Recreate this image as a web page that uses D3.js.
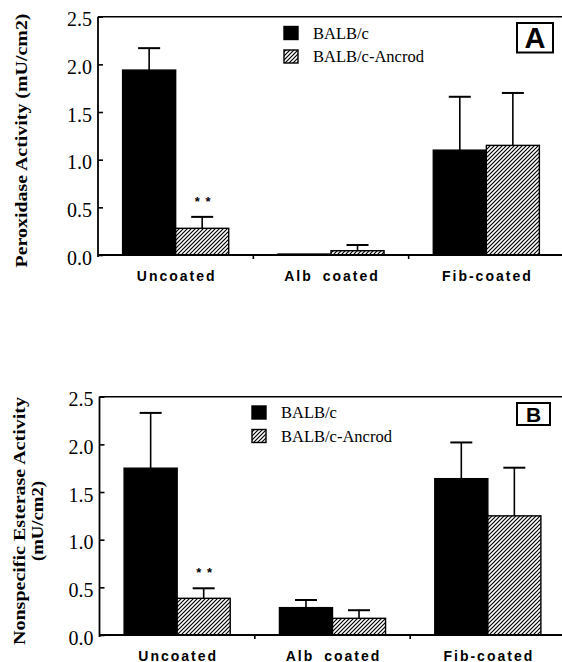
<!DOCTYPE html>
<html>
<head>
<meta charset="utf-8">
<script src="https://cdn.jsdelivr.net/npm/d3@7"></script>
<style>
  html, body { margin: 0; padding: 0; background: #fff; }
  svg { display: block; }
</style>
</head>
<body>
<svg id="chart" width="562" height="662"></svg>
<script>
// ---------- data ----------
const categories = ["Uncoated", "Alb coated", "Fib-coated"];
const seriesNames = ["BALB/c", "BALB/c-Ancrod"];
const yTicks = [0, 0.5, 1.0, 1.5, 2.0, 2.5];

const peroxBalb      = [1.94, 0.01, 1.10];
const peroxBalbErr   = [0.23, 0, 0.56];
const peroxAncrod    = [0.28, 0.045, 1.15];
const peroxAncrodErr = [0.12, 0.06, 0.55];

const esterBalb      = [1.75, 0.287, 1.64];
const esterBalbErr   = [0.58, 0.08, 0.38];
const esterAncrod    = [0.385, 0.175, 1.25];
const esterAncrodErr = [0.105, 0.085, 0.505];

const ancrodSignif = ["* *", "", ""];

const panelLetters = ["A", "B"];
const yTitlesA = ["Peroxidase Activity (mU/cm2)"];
const yTitlesB = ["Nonspecific Esterase Activity", "(mU/cm2)"];

// ---------- drawing ----------
const svg = d3.select("#chart");
const defs = svg.append("defs");
const pat = defs.append("pattern")
  .attr("id", "hatch").attr("patternUnits", "userSpaceOnUse")
  .attr("width", 4).attr("height", 4);
pat.append("rect").attr("width", 4).attr("height", 4).attr("fill", "#fff");
pat.append("path").attr("d", "M0,4 L4,0 M-1,1 L1,-1 M3,5 L5,3")
  .attr("stroke", "#000").attr("stroke-width", 1.2);

const serif = "'Liberation Serif', 'DejaVu Serif', serif";
const sans = "'Liberation Sans', Arial, sans-serif";

function drawPanel(cfg) {
  const g = svg.append("g");
  const y = d3.scaleLinear().domain([0, 2.5]).range([cfg.bottom, cfg.top]);
  const x0 = d3.scaleBand().domain(categories).range([cfg.left, cfg.right])
    .paddingInner(0.317).paddingOuter(0.1585);
  const x1 = d3.scaleBand().domain(seriesNames).range([0, x0.bandwidth()]);

  const rows = [];
  categories.forEach((c, i) => {
    rows.push({cat: c, s: seriesNames[0], v: cfg.balb[i], e: cfg.balbErr[i], fill: "#000", sig: ""});
    rows.push({cat: c, s: seriesNames[1], v: cfg.ancrod[i], e: cfg.ancrodErr[i], fill: "url(#hatch)", sig: ancrodSignif[i]});
  });

  // error bars (upper only)
  const eb = g.append("g");
  rows.filter(d => d.e > 0).forEach(d => {
    const cx = x0(d.cat) + x1(d.s) + x1.bandwidth() / 2;
    eb.append("line").attr("x1", cx).attr("x2", cx)
      .attr("y1", y(d.v)).attr("y2", y(d.v + d.e))
      .attr("stroke", "#000").attr("stroke-width", 1.6);
    eb.append("line").attr("x1", cx - 11).attr("x2", cx + 11)
      .attr("y1", y(d.v + d.e)).attr("y2", y(d.v + d.e))
      .attr("stroke", "#000").attr("stroke-width", 2);
  });

  // bars
  g.append("g").selectAll("rect").data(rows).join("rect")
    .attr("x", d => x0(d.cat) + x1(d.s))
    .attr("y", d => y(d.v))
    .attr("width", x1.bandwidth())
    .attr("height", d => y(0) - y(d.v))
    .attr("fill", d => d.fill)
    .attr("stroke", "#000").attr("stroke-width", 1.4);

  // significance marks
  g.append("g").selectAll("text").data(rows.filter(d => d.sig)).join("text")
    .attr("x", d => x0(d.cat) + x1(d.s) + x1.bandwidth() / 2 + 1)
    .attr("y", d => y(d.v + d.e) - 11)
    .attr("text-anchor", "middle")
    .attr("font-family", sans).attr("font-size", 13).attr("font-weight", "bold")
    .attr("letter-spacing", "1px")
    .attr("xml:space", "preserve")
    .text(d => d.sig);

  // top frame line
  g.append("line").attr("x1", cfg.left).attr("x2", 562)
    .attr("y1", cfg.top).attr("y2", cfg.top)
    .attr("stroke", "#000").attr("stroke-width", 1.6);
  // bottom axis line
  g.append("line").attr("x1", cfg.left).attr("x2", 562)
    .attr("y1", cfg.bottom).attr("y2", cfg.bottom)
    .attr("stroke", "#000").attr("stroke-width", 1.8);

  // x ticks at group boundaries
  const step = x0.step();
  categories.slice(0, -1).forEach(c => {
    const bx = x0(c) + x0.bandwidth() + (step - x0.bandwidth()) / 2;
    g.append("line").attr("x1", bx).attr("x2", bx)
      .attr("y1", cfg.bottom).attr("y2", cfg.bottom + 4)
      .attr("stroke", "#000").attr("stroke-width", 1.6);
  });

  // x labels
  const xAxis = d3.axisBottom(x0).tickSize(0).tickPadding(0);
  const xg = g.append("g").attr("transform", `translate(0,${cfg.bottom})`).call(xAxis);
  xg.select(".domain").remove();
  xg.selectAll("text")
    .attr("y", cfg.labelY - cfg.bottom).attr("dy", 0)
    .attr("dx", 1)
    .attr("font-family", sans).attr("font-size", 14).attr("font-weight", "bold")
    .attr("letter-spacing", "2px").attr("word-spacing", "4px")
    .attr("fill", "#000");

  // y axis
  const yAxis = d3.axisLeft(y).tickValues(yTicks).tickFormat(d3.format(".1f"))
    .tickSizeInner(-5).tickSizeOuter(0).tickPadding(6);
  const yg = g.append("g").attr("transform", `translate(${cfg.left},0)`).call(yAxis);
  yg.select(".domain").attr("stroke-width", 1.8)
    .attr("d", `M0,${cfg.top}V${cfg.bottom + 2}`);
  yg.selectAll(".tick line").attr("stroke-width", 1.6);
  yg.selectAll("text").attr("dy", "0.45em")
    .attr("font-family", serif).attr("font-size", 20).attr("fill", "#000");

  // legend
  const lg = g.append("g");
  seriesNames.forEach((s, i) => {
    const ly = cfg.legY + i * 23.5;
    lg.append("rect").attr("x", cfg.legX).attr("y", ly)
      .attr("width", 14).attr("height", 13)
      .attr("fill", i === 0 ? "#000" : "url(#hatch)")
      .attr("stroke", "#000").attr("stroke-width", 1.4);
    lg.append("text").attr("x", cfg.legX + 29).attr("y", ly + 12)
      .attr("font-family", serif).attr("font-size", 16.5).attr("fill", "#000")
      .text(s);
  });

  // panel letter box
  g.append("rect").attr("x", cfg.box[0]).attr("y", cfg.box[1])
    .attr("width", cfg.box[2]).attr("height", cfg.box[3])
    .attr("fill", "none").attr("stroke", "#000").attr("stroke-width", 2);
  g.append("text")
    .attr("x", cfg.box[0] + cfg.box[2] / 2)
    .attr("y", cfg.box[1] + cfg.box[3] / 2 + cfg.letterSize * 0.36)
    .attr("text-anchor", "middle")
    .attr("font-family", sans).attr("font-weight", "bold").attr("font-size", cfg.letterSize)
    .text(cfg.letter);

  // y title(s)
  cfg.titles.forEach((t, i) => {
    g.append("text")
      .attr("transform", `translate(${cfg.titleX[i]},${cfg.titleY}) rotate(-90)`)
      .attr("text-anchor", "middle")
      .attr("font-family", serif).attr("font-weight", "bold").attr("font-size", 17)
      .attr("textLength", cfg.titleLen[i]).attr("lengthAdjust", "spacingAndGlyphs")
      .text(t);
  });
}

drawPanel({
  top: 16.7, bottom: 255, left: 98, right: 564, labelY: 281,
  balb: peroxBalb, balbErr: peroxBalbErr, ancrod: peroxAncrod, ancrodErr: peroxAncrodErr,
  legX: 284, legY: 26.5, box: [517, 23, 36, 29.5], letter: panelLetters[0], letterSize: 29,
  titles: yTitlesA, titleX: [27], titleY: 140.5, titleLen: [254]
});

drawPanel({
  top: 396.7, bottom: 635, left: 99.5, right: 565.5, labelY: 660.5,
  balb: esterBalb, balbErr: esterBalbErr, ancrod: esterAncrod, ancrodErr: esterAncrodErr,
  legX: 252, legY: 406, box: [517, 403, 33, 22], letter: panelLetters[1], letterSize: 21,
  titles: yTitlesB, titleX: [25, 43], titleY: 521, titleLen: [248, 80]
});
</script>
</body>
</html>
